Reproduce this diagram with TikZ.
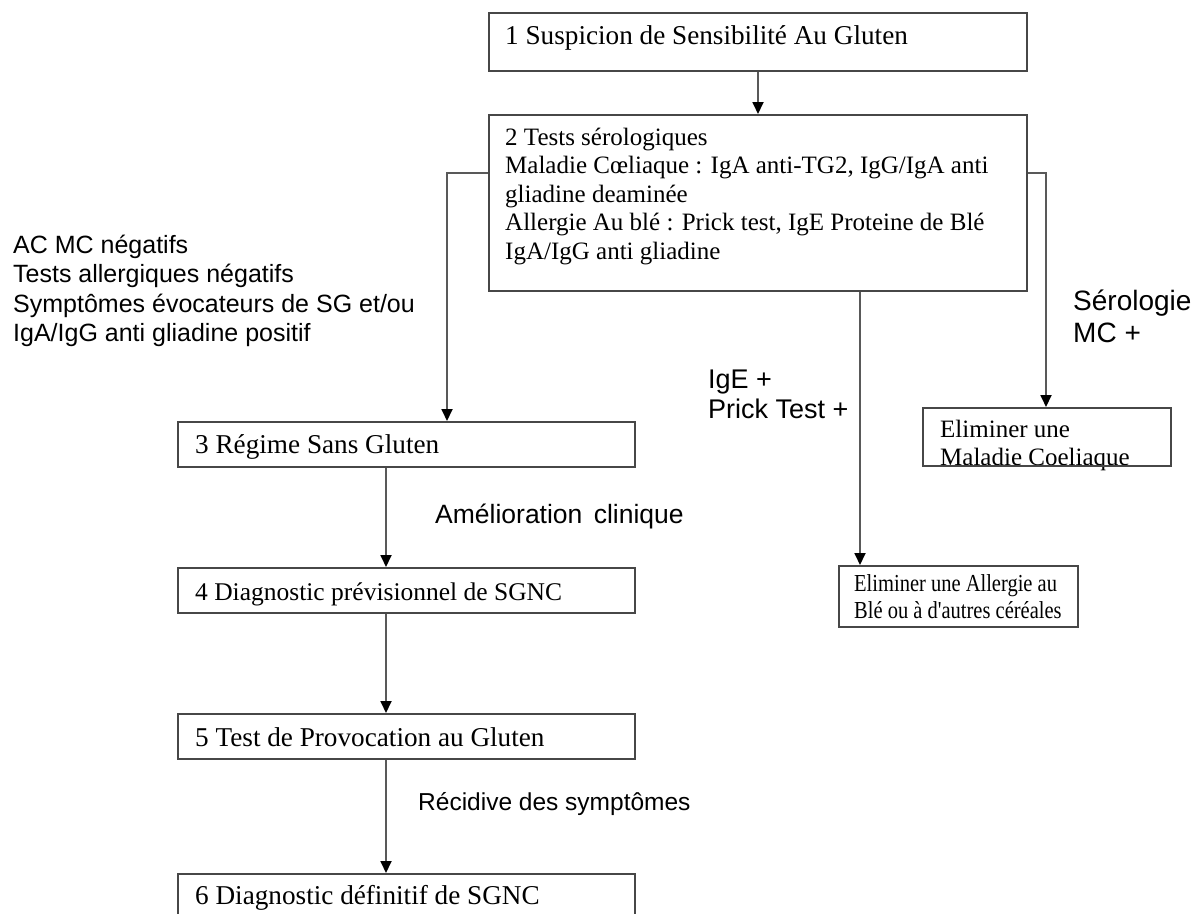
\documentclass[tikz,border=0pt]{standalone}
\usepackage{fontspec}
\setmainfont{Liberation Serif}[Ligatures=TeXOff]
\newfontfamily\serifnarrow{Liberation Serif}[Ligatures=TeXOff, FakeStretch=0.84]
\newfontfamily\sansf{Liberation Sans}
\usetikzlibrary{arrows.meta}
\newcommand\txtlines[1]{\begin{tabular}[t]{@{}l@{}}#1\end{tabular}}
\begin{document}
\begin{tikzpicture}[x=1pt,y=-1pt,
  boxnode/.style={draw=black!72, line width=1.8pt, inner sep=0pt, anchor=north west},
  serif/.style={inner sep=0pt, anchor=base west, font=\fontsize{25}{28.5}\selectfont},
  serifL/.style={serif, font=\fontsize{27.2}{30}\selectfont},
  lbl/.style={inner sep=0pt, anchor=base west, font=\sansf\fontsize{25}{29.5}\selectfont},
  conn/.style={draw=black!65, line width=1.8pt},
  arr/.style={conn, -{Triangle[length=12pt,width=11pt,color=black]}}]
\useasboundingbox (0,0) rectangle (1199,913);
\fill[white] (0,0) rectangle (1199,913);

% texts
\node[serifL] (t1) at (505,44) {1 Suspicion de Sensibilité Au Gluten};
\node[serif] (t2) at (505,145) {\txtlines{2 Tests sérologiques\\ Maladie Cœliaque : IgA anti-TG2, IgG/IgA anti\\ gliadine deaminée\\ Allergie Au blé : Prick test, IgE Proteine de Blé\\ IgA/IgG anti gliadine}};
\node[serifL] (t3) at (195,453) {3 Régime Sans Gluten};
\node[serif, font=\fontsize{25.5}{28}\selectfont] (t4) at (195,600) {4 Diagnostic prévisionnel de SGNC};
\node[serifL] (t5) at (195,746) {5 Test de Provocation au Gluten};
\node[serifL] (t6) at (195,904) {6 Diagnostic définitif de SGNC};
\node[serif] (tmc) at (940,437) {\txtlines{Eliminer une\\ Maladie Coeliaque}};
\node[serif, font=\serifnarrow\fontsize{24.4}{27}\selectfont] (tal) at (854,591) {\txtlines{Eliminer une Allergie au\\ Blé ou à d'autres céréales}};

\node[lbl] (l1) at (13,253) {\txtlines{AC MC négatifs\\ Tests allergiques négatifs\\ Symptômes évocateurs de SG et/ou\\ IgA/IgG anti gliadine positif}};
\node[lbl, font=\sansf\fontsize{28}{32}\selectfont] (l2) at (1073,310) {\txtlines{Sérologie\\ MC +}};
\node[lbl, font=\sansf\fontsize{27}{30}\selectfont] (l3) at (708,388) {\txtlines{IgE +\\ Prick Test +}};
\node[lbl, font=\sansf\fontsize{26.5}{30}\selectfont] (l4) at (435,523) {Amélioration\hspace{4pt} clinique};
\node[lbl, font=\sansf\fontsize{24.5}{30}\selectfont] (l5) at (418,810) {Récidive des symptômes};

% boxes
\node[boxnode, minimum width=538pt, minimum height=58pt] (b1) at (488,12) {};
\node[boxnode, minimum width=538pt, minimum height=176pt] (b2) at (488,114) {};
\node[boxnode, minimum width=457pt, minimum height=45pt] (b3) at (177,421) {};
\node[boxnode, minimum width=457pt, minimum height=45pt] (b4) at (177,567) {};
\node[boxnode, minimum width=457pt, minimum height=45pt] (b5) at (177,713) {};
\node[boxnode, minimum width=457pt, minimum height=60pt] (b6) at (177,873) {};
\node[boxnode, minimum width=248pt, minimum height=58pt] (bmc) at (922,407) {};
\node[boxnode, minimum width=239pt, minimum height=61pt] (bal) at (838,565) {};

% connector guides
\coordinate (x12) at (758,0);
\coordinate (xmid) at (860,0);
\coordinate (xl) at (447,0);
\coordinate (xr) at (1046,0);
\coordinate (spine) at (386,0);
\coordinate (yb2) at (0,173);

\draw[arr] (b1.south -| x12) -- (b2.north -| x12);
\draw[arr] (b2.west |- yb2) -| (b3.north -| xl);
\draw[arr] (b2.east |- yb2) -| (bmc.north -| xr);
\draw[arr] (b2.south -| xmid) -- (bal.north -| xmid);
\draw[arr] (b3.south -| spine) -- (b4.north -| spine);
\draw[arr] (b4.south -| spine) -- (b5.north -| spine);
\draw[arr] (b5.south -| spine) -- (b6.north -| spine);
\end{tikzpicture}
\end{document}
